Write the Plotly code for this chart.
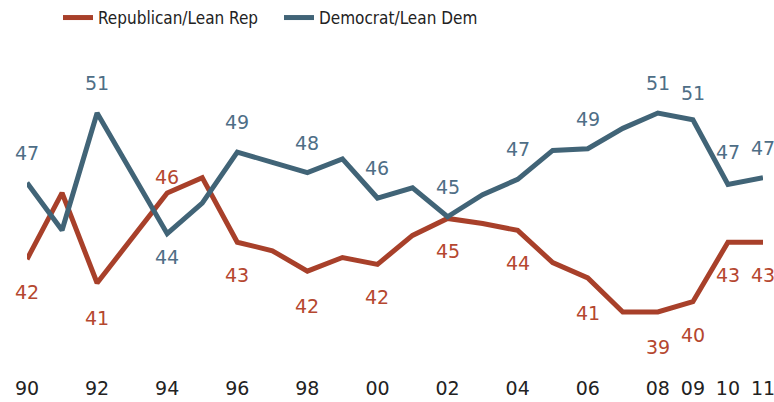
import plotly.graph_objects as go

years = list(range(1990, 2012))
rep = [42.4, 46.3, 41.0, 43.6, 46.3, 47.2, 43.4, 42.9, 41.7, 42.5, 42.1, 43.8,
       44.8, 44.5, 44.1, 42.2, 41.3, 39.3, 39.3, 39.9, 43.4, 43.4]
dem = [46.9, 44.1, 51.0, 47.5, 43.9, 45.7, 48.7, 48.1, 47.5, 48.3, 46.0, 46.6,
       44.9, 46.2, 47.1, 48.8, 48.9, 50.1, 51.0, 50.6, 46.8, 47.2]

label_years = [1990, 1992, 1994, 1996, 1998, 2000, 2002, 2004, 2006, 2008, 2009, 2010, 2011]
# vertical offset (px) of each value label from its point
dem_shift = [30, 30, -23, 30, 30, 30, 30, 30, 30, 30, 27, 32, 30]
rep_shift = [-33, -35, 16, -33, -35, -33, -33, -33, -35, -35, -33, -33, -33]
tick_vals = [1990, 1992, 1994, 1996, 1998, 2000, 2002, 2004, 2006, 2008, 2009, 2010, 2011]
tick_text = ["90", "92", "94", "96", "98", "00", "02", "04", "06", "08", "09", "10", "11"]

REP_C = "#A8402A"
DEM_C = "#416477"
REP_T = "#B5472F"
DEM_T = "#4E6E86"
FONT = "DejaVu Sans"

fig = go.Figure()
fig.add_trace(go.Scatter(x=years, y=rep, mode="lines", name="Republican/Lean Rep",
                         line=dict(color=REP_C, width=5)))
fig.add_trace(go.Scatter(x=years, y=dem, mode="lines", name="Democrat/Lean Dem",
                         line=dict(color=DEM_C, width=5)))

for k, yr in enumerate(label_years):
    i = years.index(yr)
    fig.add_annotation(x=yr, y=dem[i], text=f"{dem[i]:.0f}", showarrow=False,
                       yshift=dem_shift[k], font=dict(family=FONT, size=19, color=DEM_T))
    fig.add_annotation(x=yr, y=rep[i], text=f"{rep[i]:.0f}", showarrow=False,
                       yshift=rep_shift[k], font=dict(family=FONT, size=19, color=REP_T))

fig.update_layout(
    width=774, height=402,
    margin=dict(l=27, r=11, t=60, b=27, autoexpand=False),
    paper_bgcolor="white", plot_bgcolor="white",
    showlegend=True,
    legend=dict(orientation="h", x=0.0421, y=1.1905, yanchor="top", xanchor="left",
                entrywidth=176, entrywidthmode="pixels",
                font=dict(family="DejaVu Sans Condensed, DejaVu Sans", size=17, color="#222222")),
    font=dict(family=FONT),
)
fig.update_xaxes(range=[1990, 2011], tickvals=tick_vals, ticktext=tick_text,
                 showgrid=False, zeroline=False, showline=False, ticks="", automargin=False,
                 ticklabeloverflow="allow",
                 tickfont=dict(family=FONT, size=19, color="#222222"))
fig.update_yaxes(range=[35.59, 54.12], showgrid=False, zeroline=False, showline=False,
                 showticklabels=False, ticks="", automargin=False)

fig.write_html("out.html", config={"displayModeBar": False},
               post_script="document.body.style.margin='0';document.body.style.overflow='hidden';")
